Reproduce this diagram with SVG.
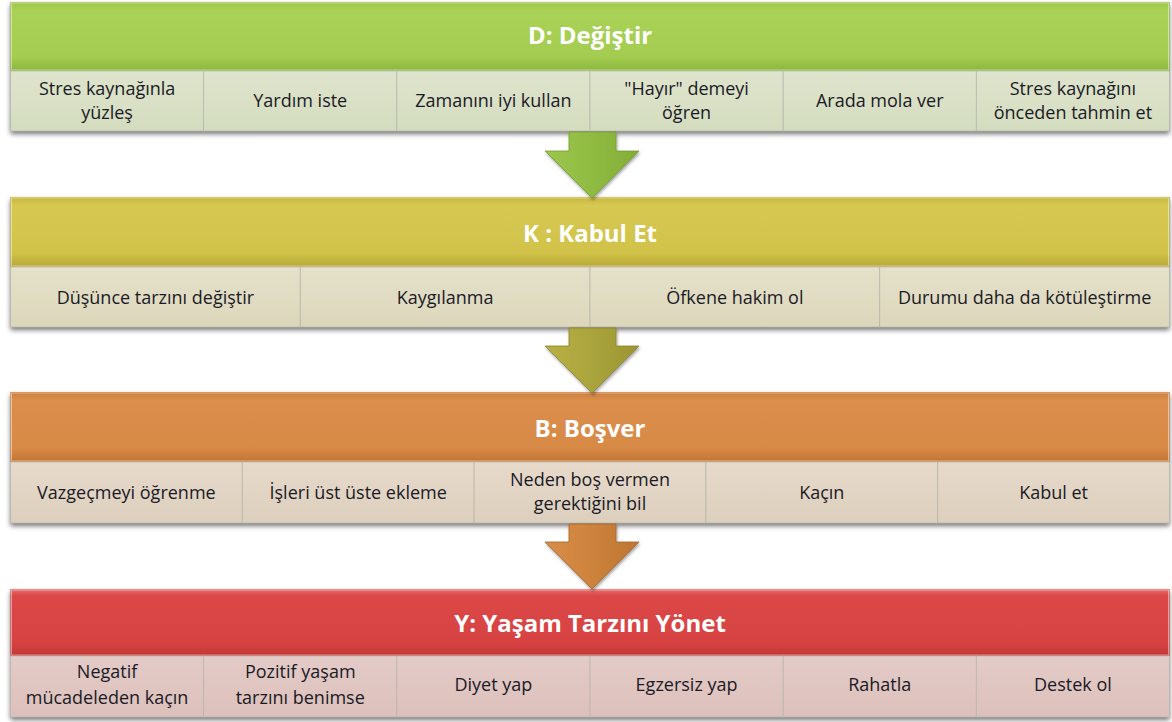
<svg xmlns="http://www.w3.org/2000/svg" width="1172" height="722" viewBox="0 0 1172 722">
<defs>
<style>
.title{font-family:"Open Sans","Noto Sans",sans-serif;font-weight:bold;font-size:24px;fill:#ffffff;text-anchor:middle}
.lbl{font-family:"Open Sans","Noto Sans",sans-serif;font-size:18px;fill:#1a1a26;text-anchor:middle}
.cell{stroke:#b9b9b0;stroke-width:0.8}
.hi{fill:none;stroke:#ffffff;stroke-opacity:0.45;stroke-width:1}
.arrow{stroke-width:0.8;stroke-linejoin:miter}
</style>
<filter id="sh" x="-3%" y="-20%" width="106%" height="150%">
<feDropShadow dx="0" dy="3" stdDeviation="2.5" flood-color="#000" flood-opacity="0.55"/>
</filter>
<filter id="ash" x="-20%" y="-20%" width="140%" height="150%">
<feDropShadow dx="1" dy="2" stdDeviation="1.5" flood-color="#000" flood-opacity="0.35"/>
</filter>
<linearGradient id="gD" x1="0" y1="0" x2="0" y2="1">
<stop offset="0" stop-color="#9cc449"/><stop offset="0.12" stop-color="#a9d257"/><stop offset="0.8" stop-color="#a3cc50"/><stop offset="1" stop-color="#8cb73c"/>
</linearGradient>
<linearGradient id="gK" x1="0" y1="0" x2="0" y2="1">
<stop offset="0" stop-color="#c5b53d"/><stop offset="0.12" stop-color="#d6c850"/><stop offset="0.8" stop-color="#d1c24a"/><stop offset="1" stop-color="#b7a734"/>
</linearGradient>
<linearGradient id="gB" x1="0" y1="0" x2="0" y2="1">
<stop offset="0" stop-color="#cc7d3b"/><stop offset="0.12" stop-color="#dc8f4d"/><stop offset="0.8" stop-color="#d78946"/><stop offset="1" stop-color="#c37435"/>
</linearGradient>
<linearGradient id="gY" x1="0" y1="0" x2="0" y2="1">
<stop offset="0" stop-color="#e87070"/><stop offset="0.1" stop-color="#dc4747"/><stop offset="0.8" stop-color="#d74242"/><stop offset="1" stop-color="#c33737"/>
</linearGradient>
<linearGradient id="sD" x1="0" y1="0" x2="0" y2="1"><stop offset="0" stop-color="#dfe5cd"/><stop offset="1" stop-color="#d4dcbf"/></linearGradient>
<linearGradient id="sK" x1="0" y1="0" x2="0" y2="1"><stop offset="0" stop-color="#e5e1ca"/><stop offset="1" stop-color="#dcd7bb"/></linearGradient>
<linearGradient id="sB" x1="0" y1="0" x2="0" y2="1"><stop offset="0" stop-color="#e7dacb"/><stop offset="1" stop-color="#ddcfbd"/></linearGradient>
<linearGradient id="sY" x1="0" y1="0" x2="0" y2="1"><stop offset="0" stop-color="#e4cbc7"/><stop offset="1" stop-color="#dcc0bb"/></linearGradient>
<linearGradient id="aG" x1="0" y1="0" x2="1" y2="0"><stop offset="0" stop-color="#9cc64b"/><stop offset="0.5" stop-color="#90bb42"/><stop offset="1" stop-color="#83ad38"/></linearGradient>
<linearGradient id="aO" x1="0" y1="0" x2="1" y2="0"><stop offset="0" stop-color="#b8b146"/><stop offset="0.5" stop-color="#aaa43c"/><stop offset="1" stop-color="#9b9532"/></linearGradient>
<linearGradient id="aR" x1="0" y1="0" x2="1" y2="0"><stop offset="0" stop-color="#d98d4a"/><stop offset="0.5" stop-color="#cd833c"/><stop offset="1" stop-color="#bd7532"/></linearGradient>
</defs>
<rect width="1172" height="722" fill="#ffffff"/>

<!-- Section D -->
<g id="sec-d">
<rect x="10.5" y="2" width="1159" height="129" fill="#888" filter="url(#sh)"/>
<g id="d-header">
<rect x="10.5" y="2" width="1159" height="69" fill="url(#gD)"/>
<rect class="hi" x="11.5" y="3" width="1157" height="67"/>
<text class="title" x="590" y="44">D: Değiştir</text>
</g>
<g id="d1"><rect class="cell" x="10.5" y="71" width="193.17" height="60" fill="url(#sD)"/><text class="lbl" x="107.1" y="95">Stres kaynağınla</text><text class="lbl" x="107.1" y="119">yüzleş</text></g>
<g id="d2"><rect class="cell" x="203.67" y="71" width="193.17" height="60" fill="url(#sD)"/><text class="lbl" x="300.25" y="107">Yardım iste</text></g>
<g id="d3"><rect class="cell" x="396.83" y="71" width="193.17" height="60" fill="url(#sD)"/><text class="lbl" x="493.4" y="107">Zamanını iyi kullan</text></g>
<g id="d4"><rect class="cell" x="590" y="71" width="193.17" height="60" fill="url(#sD)"/><text class="lbl" x="686.6" y="95">"Hayır" demeyi</text><text class="lbl" x="686.6" y="119">öğren</text></g>
<g id="d5"><rect class="cell" x="783.17" y="71" width="193.17" height="60" fill="url(#sD)"/><text class="lbl" x="879.75" y="107">Arada mola ver</text></g>
<g id="d6"><rect class="cell" x="976.33" y="71" width="193.17" height="60" fill="url(#sD)"/><text class="lbl" x="1072.9" y="95">Stres kaynağını</text><text class="lbl" x="1072.9" y="119">önceden tahmin et</text></g>
</g>

<!-- Section K -->
<g id="sec-k">
<rect x="10.5" y="197" width="1159" height="130" fill="#888" filter="url(#sh)"/>
<g id="k-header">
<rect x="10.5" y="197" width="1159" height="70" fill="url(#gK)"/>
<rect class="hi" x="11.5" y="198" width="1157" height="68"/>
<text class="title" x="590" y="242">K : Kabul Et</text>
</g>
<g id="k1"><rect class="cell" x="10.5" y="267" width="289.75" height="60" fill="url(#sK)"/><text class="lbl" x="155.4" y="304">Düşünce tarzını değiştir</text></g>
<g id="k2"><rect class="cell" x="300.25" y="267" width="289.75" height="60" fill="url(#sK)"/><text class="lbl" x="445.1" y="304">Kaygılanma</text></g>
<g id="k3"><rect class="cell" x="590" y="267" width="289.75" height="60" fill="url(#sK)"/><text class="lbl" x="734.9" y="304">Öfkene hakim ol</text></g>
<g id="k4"><rect class="cell" x="879.75" y="267" width="289.75" height="60" fill="url(#sK)"/><text class="lbl" x="1024.6" y="304">Durumu daha da kötüleştirme</text></g>
</g>

<!-- Section B -->
<g id="sec-b">
<rect x="10.5" y="392" width="1159" height="131" fill="#888" filter="url(#sh)"/>
<g id="b-header">
<rect x="10.5" y="392" width="1159" height="70" fill="url(#gB)"/>
<rect class="hi" x="11.5" y="393" width="1157" height="68"/>
<text class="title" x="590" y="437">B: Boşver</text>
</g>
<g id="b1"><rect class="cell" x="10.5" y="462" width="231.8" height="61" fill="url(#sB)"/><text class="lbl" x="126.4" y="499">Vazgeçmeyi öğrenme</text></g>
<g id="b2"><rect class="cell" x="242.3" y="462" width="231.8" height="61" fill="url(#sB)"/><text class="lbl" x="358.2" y="499">İşleri üst üste ekleme</text></g>
<g id="b3"><rect class="cell" x="474.1" y="462" width="231.8" height="61" fill="url(#sB)"/><text class="lbl" x="590" y="486">Neden boş vermen</text><text class="lbl" x="590" y="510">gerektiğini bil</text></g>
<g id="b4"><rect class="cell" x="705.9" y="462" width="231.8" height="61" fill="url(#sB)"/><text class="lbl" x="821.8" y="499">Kaçın</text></g>
<g id="b5"><rect class="cell" x="937.7" y="462" width="231.8" height="61" fill="url(#sB)"/><text class="lbl" x="1053.6" y="499">Kabul et</text></g>
</g>

<!-- Section Y -->
<g id="sec-y">
<rect x="10.5" y="589" width="1159" height="128" fill="#888" filter="url(#sh)"/>
<g id="y-header">
<rect x="10.5" y="589" width="1159" height="67" fill="url(#gY)"/>
<rect class="hi" x="11.5" y="590" width="1157" height="65"/>
<text class="title" x="590" y="632">Y: Yaşam Tarzını Yönet</text>
</g>
<g id="y1"><rect class="cell" x="10.5" y="656" width="193.17" height="61" fill="url(#sY)"/><text class="lbl" x="107.1" y="678">Negatif</text><text class="lbl" x="107.1" y="704">mücadeleden kaçın</text></g>
<g id="y2"><rect class="cell" x="203.67" y="656" width="193.17" height="61" fill="url(#sY)"/><text class="lbl" x="300.25" y="678">Pozitif yaşam</text><text class="lbl" x="300.25" y="704">tarzını benimse</text></g>
<g id="y3"><rect class="cell" x="396.83" y="656" width="193.17" height="61" fill="url(#sY)"/><text class="lbl" x="493.4" y="691">Diyet yap</text></g>
<g id="y4"><rect class="cell" x="590" y="656" width="193.17" height="61" fill="url(#sY)"/><text class="lbl" x="686.6" y="691">Egzersiz yap</text></g>
<g id="y5"><rect class="cell" x="783.17" y="656" width="193.17" height="61" fill="url(#sY)"/><text class="lbl" x="879.75" y="691">Rahatla</text></g>
<g id="y6"><rect class="cell" x="976.33" y="656" width="193.17" height="61" fill="url(#sY)"/><text class="lbl" x="1072.9" y="691">Destek ol</text></g>
</g>

<!-- Connectors -->
<g id="connectors">
<path class="arrow" d="M569,132 H616 V151 H639 L592,198 L545,151 H569 Z" fill="url(#aG)" stroke="#769c34" filter="url(#ash)"/>
<path class="arrow" d="M569,328 H616 V346 H639 L592,393 L545,346 H569 Z" fill="url(#aO)" stroke="#8a842b" filter="url(#ash)"/>
<path class="arrow" d="M569,524 H616 V542 H639 L592,589 L545,542 H569 Z" fill="url(#aR)" stroke="#a86428" filter="url(#ash)"/>
</g>
</svg>
